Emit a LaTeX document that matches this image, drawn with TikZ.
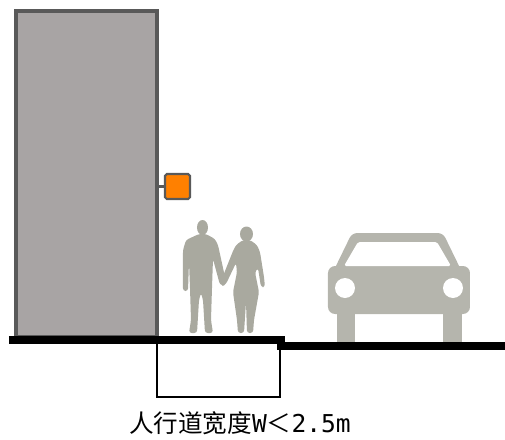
\documentclass[tikz,border=0pt]{standalone}
\usepackage{fontspec}
\newfontfamily\cjk{Noto Sans CJK SC}
\newfontfamily\latinmono{DejaVu Sans Mono}
\usepackage{xcolor}
\usepackage{tikz}
\usetikzlibrary{positioning}

\definecolor{wallgray}{HTML}{A8A4A4}
\definecolor{walledge}{HTML}{595959}
\definecolor{persongray}{HTML}{A9A99F}
\definecolor{cargray}{HTML}{B5B5AD}
\definecolor{signorange}{HTML}{FF8000}

\begin{document}
\begin{tikzpicture}[x=0.02cm, y=-0.02cm,
    wall/.style={fill=wallgray, draw=walledge, line width=2.2pt},
    sign/.style={draw=walledge, fill=signorange, line width=1.2pt, minimum size=0.5cm, inner sep=0pt, rounded corners=1pt},
    person/.style={fill=persongray, rounded corners=1.5pt},
    car/.style={fill=cargray},
    ground/.style={line width=4pt},
    label/.style={font=\cjk\fontsize{14}{16}\selectfont}
  ]
    \useasboundingbox (0,0) rectangle (505,440);

    % Building wall
    \draw[wall] (16,11) rectangle (157,337);

    % Sign on the wall
    \node[sign] (board) at (177.5,186.5) {};
    \coordinate (wallpt) at (157,186.5);
    \draw[walledge, line width=1.2pt] (wallpt) -- (board.west);

    % Pedestrians
    \fill[persongray] (202.5,227.5) ellipse [x radius=5.5, y radius=7.5];
    \fill[person] (199,234) -- (206,234) -- (215,239) -- (218,245) -- (225,277) -- (225,285)
      -- (220,285) -- (213,259) -- (212,288) -- (211,320) -- (213,333) -- (205,333)
      -- (203,300) -- (201,293) -- (199,300) -- (197,333) -- (189,333) -- (191,320)
      -- (190,288) -- (189,262) -- (188,291) -- (183,291) -- (183,250) -- (186,240) -- cycle;
    \fill[persongray] (246.5,234) ellipse [x radius=6.5, y radius=7.5];
    \fill[person] (243,240) -- (250,240) -- (257,245) -- (260,252) -- (264,277) -- (265,287)
      -- (261,287) -- (258,268) -- (255,272) -- (259,292) -- (254,320) -- (253,333)
      -- (247,333) -- (246,302) -- (244,333) -- (238,333) -- (237,320) -- (233,292)
      -- (237,272) -- (236,263) -- (226,284) -- (222,287) -- (221,281) -- (233,251)
      -- (236,245) -- cycle;

    % Car, front view
    \fill[car, rounded corners=3pt] (352,233) -- (443,233) -- (462,272) -- (333,272) -- cycle;
    \fill[car, rounded corners=4pt] (328,266) rectangle (470,314);
    \fill[white, rounded corners=1pt] (358,242) -- (437,242) -- (451,266) -- (344,266) -- cycle;
    \fill[white] (345,288) circle (10);
    \fill[white] (453,288) circle (10);
    \fill[car] (337,312) rectangle (355,343);
    \fill[car] (443,312) rectangle (462,343);

    % Sidewalk and road surface
    \draw[ground] (9,340) -- (281,340) -- (281,346) -- (505,346);

    % Sidewalk width bracket
    \draw[line width=1.1pt] (157,342) -- (157,397) -- (280,397) -- (280,347);
    \node[label] (width) at (240,423) {人行道宽度{\latinmono W}＜{\latinmono 2.5m}};

  \end{tikzpicture}
\end{document}
